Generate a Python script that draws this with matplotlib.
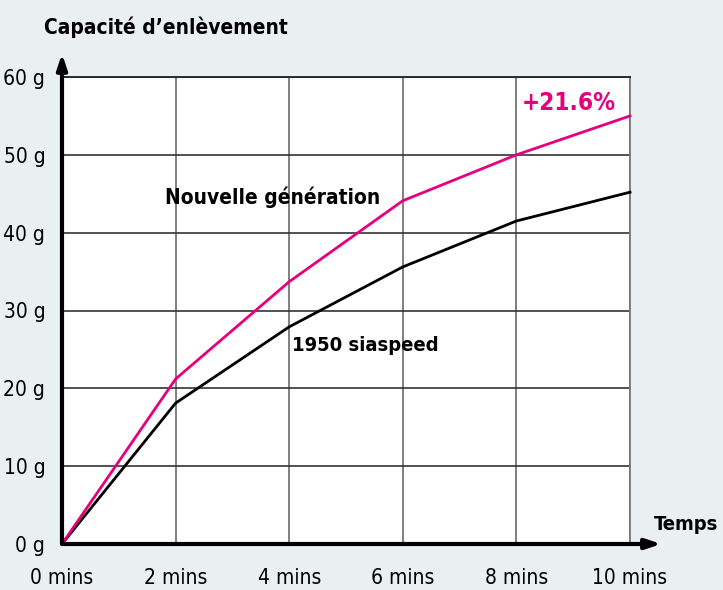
import matplotlib.pyplot as plt
import numpy as np

plt.rcParams['font.family'] = ['DejaVu Sans']
plt.rcParams['font.stretch'] = 'condensed'

minutes = [0, 2, 4, 6, 8, 10]
nouvelle = [0, 21.2, 33.7, 44.1, 50.0, 55.0]
siaspeed = [0, 18.1, 27.9, 35.6, 41.5, 45.2]
x_labels = ['0 mins', '2 mins', '4 mins', '6 mins', '8 mins', '10 mins']
y_ticks = [0, 10, 20, 30, 40, 50, 60]
y_labels = ['%d g' % v for v in y_ticks]

pink = '#e6007e'
bg = '#eaeff2'

fig = plt.figure(figsize=(7.23, 5.90), dpi=100, facecolor=bg)
ax = fig.add_axes([62/723, 46/590, 568/723, 467/590])
ax.set_facecolor('white')
ax.set_xlim(0, 10)
ax.set_ylim(0, 60)

ax.set_xticks(minutes)
ax.set_yticks(y_ticks)
ax.grid(True, axis='x', color='#6a6a6a', lw=1.2)
ax.grid(True, axis='y', color='#333333', lw=1.2)
ax.set_axisbelow(True)
for s in ['left', 'bottom']:
    ax.spines[s].set_visible(False)
ax.spines['top'].set_color('#222222')
ax.spines['top'].set_linewidth(1.3)
ax.spines['right'].set_color('#777777')
ax.spines['right'].set_linewidth(1.3)
ax.tick_params(length=0, labelsize=15)
ax.set_xticklabels(x_labels)
ax.set_yticklabels(y_labels)
ax.tick_params(axis='x', pad=17)
ax.tick_params(axis='y', pad=12)

ax.plot(minutes, siaspeed, color='black', lw=2, clip_on=False, zorder=3)
ax.plot(minutes, nouvelle, color=pink, lw=2, clip_on=False, zorder=3)

# axes with arrows
ax.annotate('', xy=(10.55, 0), xytext=(0, 0), xycoords='data',
            arrowprops=dict(arrowstyle='-|>,head_length=0.9,head_width=0.3',
                            lw=3, color='black', shrinkA=0, shrinkB=0),
            annotation_clip=False, zorder=4)
ax.annotate('', xy=(0, 63), xytext=(0, 0), xycoords='data',
            arrowprops=dict(arrowstyle='-|>,head_length=0.9,head_width=0.3',
                            lw=3, color='black', shrinkA=0, shrinkB=0),
            annotation_clip=False, zorder=4)

fig.text(44/723, 1 - 27/590, "Capacité d’enlèvement", fontsize=15,
         fontweight='bold', va='center', ha='left')
fig.text(718/723, 1 - 524/590, 'Temps', fontsize=14.5, fontweight='bold',
         va='center', ha='right')
ax.text(3.7, 44.5, 'Nouvelle génération', fontsize=15, fontweight='bold',
        ha='center', va='center')
ax.text(4.05, 25.5, '1950 siaspeed', fontsize=14.5, fontweight='bold',
        ha='left', va='center')
ax.text(8.1, 56.6, '+21.6%', fontsize=17.5, fontweight='bold', color=pink,
        ha='left', va='center')

fig.savefig('out.png', dpi=100, facecolor=bg)
